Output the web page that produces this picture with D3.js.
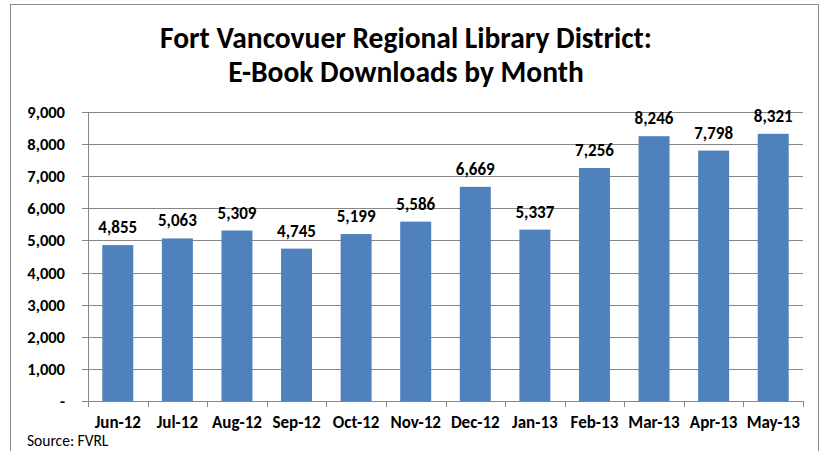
<!DOCTYPE html>
<html><head><meta charset="utf-8">
<script src="https://cdn.jsdelivr.net/npm/d3@7"></script>
<style>body{margin:0;background:#fff}svg{display:block}</style>
</head><body>
<svg id="c" width="825" height="451"></svg>
<script>
const months = ["Jun-12","Jul-12","Aug-12","Sep-12","Oct-12","Nov-12","Dec-12","Jan-13","Feb-13","Mar-13","Apr-13","May-13"];
const downloads = [4855,5063,5309,4745,5199,5586,6669,5337,7256,8246,7798,8321];
const yTicks = [0,1000,2000,3000,4000,5000,6000,7000,8000,9000];
const titleLines = ["Fort Vancovuer Regional Library District:","E-Book Downloads by Month"];
const sourceText = "Source: FVRL";

const FONT = "Carlito, Calibri, Lato, 'Open Sans', sans-serif";
const svg = d3.select("#c");
svg.append("rect").attr("x",10.5).attr("y",4.5).attr("width",808).attr("height",460)
  .attr("fill","#fff").attr("stroke","#8c8c8c").attr("stroke-width",1);

const x = d3.scaleBand().domain(months).range([88,803]).paddingInner(0.48).paddingOuter(0.24);
const y = d3.scaleLinear().domain([0,9000]).range([401,112]);

// gridlines + y ticks
const g = svg.append("g");
g.selectAll("line.grid").data(yTicks).join("line")
  .attr("x1",82).attr("x2",803)
  .attr("y1",d=>Math.round(y(d))+0.5).attr("y2",d=>Math.round(y(d))+0.5)
  .attr("stroke","#868686").attr("stroke-width",1);
g.selectAll("text.yl").data(yTicks).join("text")
  .attr("x",65).attr("y",d=>y(d)+6)
  .attr("text-anchor","end").attr("font-family",FONT).attr("font-weight","bold").attr("font-size",16.5)
  .attr("fill","#000").text(d=>d===0?"-":d3.format(",")(d));

// bars
svg.append("g").selectAll("rect").data(months).join("rect")
  .attr("x",d=>x(d)).attr("width",x.bandwidth())
  .attr("y",(d,i)=>y(downloads[i])).attr("height",(d,i)=>y(0)-y(downloads[i]))
  .attr("fill","#4F81BD");

// axes lines
svg.append("line").attr("x1",88.5).attr("x2",88.5).attr("y1",112).attr("y2",401)
  .attr("stroke","#868686");
svg.append("line").attr("x1",88).attr("x2",803).attr("y1",401.5).attr("y2",401.5)
  .attr("stroke","#868686");
const bounds = d3.range(months.length+1).map(i=>88+i*x.step());
svg.append("g").selectAll("line").data(bounds).join("line")
  .attr("x1",d=>Math.round(d)+0.5).attr("x2",d=>Math.round(d)+0.5)
  .attr("y1",401).attr("y2",407).attr("stroke","#868686");

// value labels
svg.append("g").selectAll("text").data(months).join("text")
  .attr("x",d=>x(d)+x.bandwidth()/2).attr("y",(d,i)=>y(downloads[i])-12)
  .attr("text-anchor","middle").attr("font-family",FONT).attr("font-weight","bold").attr("font-size",17)
  .text((d,i)=>d3.format(",")(downloads[i]));

// x labels
svg.append("g").selectAll("text").data(months).join("text")
  .attr("x",d=>x(d)+x.bandwidth()/2).attr("y",427.5)
  .attr("text-anchor","middle").attr("font-family",FONT).attr("font-weight","bold").attr("font-size",17)
  .text(d=>d);

// title
svg.append("g").selectAll("text").data(titleLines).join("text")
  .attr("x",406).attr("y",(d,i)=>48+i*34)
  .attr("text-anchor","middle").attr("font-family",FONT).attr("font-weight","bold").attr("font-size",29.5)
  .text(d=>d);

svg.append("text").attr("x",27).attr("y",446).attr("font-family",FONT).attr("font-size",15.5)
  .text(sourceText);
</script>
</body></html>
